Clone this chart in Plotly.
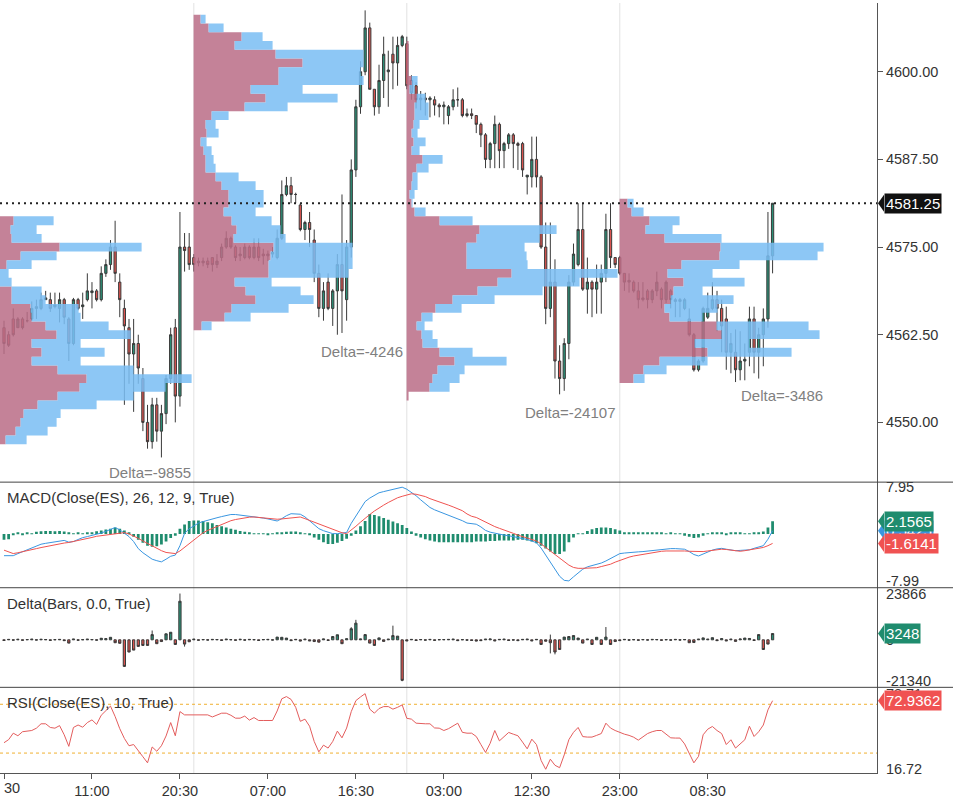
import plotly.graph_objects as go

FONT = "Liberation Sans, Arial, Helvetica, sans-serif"

# ---------------- x axis (30-minute bar index) ----------------
tick_idx = [0, 19, 38, 57, 76, 95, 114, 133, 152]
tick_text = ["30", "11:00", "20:30", "07:00", "16:30", "03:00", "12:30", "23:00", "08:30"]
session_first_bar = [41, 87, 133]
session_delta_text = ["Delta=-9855", "Delta=-4246", "Delta=-24107", "Delta=-3486"]

# ---------------- price bars (ES, 30 min) ----------------
opens = [
    4563.5, 4562.5, 4564.75, 4563.5, 4564.75, 4564.5, 4564.75, 4566.25, 4566.25, 4567.5,
    4567.5, 4566.5, 4566.25, 4567.5, 4564.75, 4561.25, 4567.5, 4566.5, 4567.5, 4568.5,
    4568.75, 4567.5, 4571.25, 4572.5, 4575, 4570, 4566.25, 4563.5, 4559.75, 4561.25,
    4556.25, 4550, 4547.25, 4552.5, 4548.75, 4551.25, 4556.25, 4563.5, 4553.75, 4575, 4575,
    4573.5, 4573, 4572.75, 4573, 4573.5, 4572.5, 4573.5, 4575, 4576.25, 4575,
    4573.75, 4573.5, 4575, 4573.5, 4575, 4574, 4573.75, 4574, 4573.5, 4576.25,
    4582.5, 4583.75, 4582.5, 4581, 4577.5, 4578.5, 4576, 4571.25, 4566.25, 4570,
    4566.25, 4568.75, 4572.5, 4567.5, 4575, 4586, 4595, 4600, 4606.25, 4597.5,
    4595, 4598.75, 4600, 4602.5, 4601.25, 4603.75,
    4604, 4598.75, 4598, 4596, 4596.25, 4596, 4596, 4595.25, 4595, 4593.75,
    4595, 4596, 4596, 4593.75, 4594, 4593.75, 4592.5, 4591, 4587.5, 4589.75,
    4592.5, 4588.75, 4589.75, 4591, 4589.75, 4589.75, 4585, 4585, 4587.5, 4585,
    4575, 4566.25, 4570, 4558.75, 4556.25, 4561.25, 4570, 4572.5, 4577.5, 4569,
    4570, 4569, 4570, 4571.25, 4577.5, 4573.5,
    4573.5, 4571.25, 4570, 4570, 4568.75, 4567.5, 4568.75, 4567.5, 4568.75, 4569,
    4567.5, 4568.75, 4567.5, 4567.25, 4566.25, 4564.75, 4562.5, 4557.5, 4558.75, 4565,
    4566.25, 4567.5, 4566.25, 4564.75, 4560, 4560, 4557.5, 4558.75, 4560, 4564.75,
    4560, 4562.5, 4564.75, 4573.75,
]
highs = [
    4564.5, 4563, 4566.25, 4565, 4565, 4565.75, 4567.25, 4567.5, 4568.5, 4568.75,
    4568.5, 4568.5, 4568.5, 4567.75, 4565, 4567.75, 4567.75, 4568.5, 4571.25, 4570,
    4569, 4572.25, 4573.25, 4576, 4578.75, 4571.25, 4567.5, 4564.75, 4564.75, 4562.5,
    4557.75, 4552.5, 4553.5, 4553.5, 4552.5, 4556.75, 4563.5, 4564.75, 4580, 4577, 4577,
    4574, 4573.5, 4573.5, 4573.5, 4573.5, 4574, 4575.5, 4577.25, 4576.5, 4575.25,
    4575, 4575.5, 4575.25, 4576.25, 4576.25, 4574.75, 4574.5, 4575, 4577.5, 4584.5,
    4585, 4585, 4582.75, 4581.25, 4578.75, 4580, 4577.5, 4572.5, 4570, 4571.25,
    4569, 4574, 4582.5, 4576, 4587.5, 4596, 4601.5, 4608.75, 4607, 4597.5,
    4601, 4605, 4603, 4605, 4605, 4605.25,
    4605, 4599.5, 4598.5, 4597.25, 4597, 4596.5, 4596.5, 4595.5, 4595.75, 4595.25,
    4597.5, 4597.75, 4596.25, 4594.75, 4594.75, 4593.75, 4592.75, 4591.25, 4590, 4593.75,
    4592.75, 4590, 4591.25, 4591.25, 4590, 4590, 4585.25, 4590.75, 4590.75, 4585.25,
    4578.5, 4578.5, 4573.25, 4561, 4562, 4571, 4575.5, 4581.25, 4581.25, 4573.5,
    4570.25, 4572.5, 4572.5, 4579.75, 4581.25, 4573.5,
    4573.75, 4571.25, 4571.25, 4570.25, 4570, 4570, 4569, 4569, 4571.5, 4569.25,
    4570.25, 4569, 4567.75, 4567.75, 4567.75, 4566.25, 4562.75, 4559, 4566.5, 4568.5,
    4570, 4568.75, 4567.5, 4566.5, 4562.75, 4563.25, 4563, 4561.25, 4566.5, 4566.5,
    4563.5, 4566.25, 4580, 4581.25,
]
lows = [
    4559.75, 4560.75, 4562.25, 4563.5, 4563.25, 4564.25, 4564.5, 4564.75, 4566, 4567.5,
    4565.75, 4566.25, 4564.25, 4564, 4558.75, 4561, 4566, 4564.75, 4567.25, 4566.25,
    4567.25, 4567.25, 4570.75, 4571.75, 4570, 4565, 4552.5, 4555.5, 4551.5, 4555.5,
    4548.75, 4546.25, 4546.25, 4547.25, 4545, 4549.75, 4555.5, 4550, 4552.25, 4571.5, 4571.75,
    4571.5, 4572.25, 4572.25, 4572, 4571.5, 4572, 4573, 4574.75, 4574.75, 4573,
    4573, 4573.25, 4573.25, 4573.25, 4573, 4572.5, 4573, 4573.5, 4573.25, 4576,
    4582.25, 4581.25, 4581.25, 4577.25, 4576, 4575, 4570, 4565, 4564.5, 4566,
    4563.75, 4562.5, 4562.75, 4564.5, 4573.5, 4585, 4594, 4599.5, 4597.5, 4593.75,
    4594, 4596.25, 4595, 4597.5, 4598, 4603.5,
    4597.5, 4596, 4594.75, 4594.5, 4593.75, 4593.5, 4593.75, 4593.5, 4592.5, 4592.5,
    4594.5, 4595, 4593.5, 4593.5, 4593.25, 4591.25, 4589.25, 4586.25, 4586.25, 4586.25,
    4586.25, 4586.25, 4589, 4586.25, 4586, 4585, 4582.5, 4583.5, 4583.5, 4574.75,
    4564, 4565, 4556.25, 4554, 4554.5, 4559, 4569.5, 4572.25, 4568.75, 4565.5,
    4565, 4565.5, 4565.5, 4570, 4572, 4572,
    4571, 4568.75, 4568.5, 4568.5, 4566.25, 4567.25, 4566.25, 4567, 4568, 4566.25,
    4567, 4566.25, 4565, 4565, 4566, 4562.25, 4557.25, 4557.25, 4558.5, 4564.75,
    4566, 4563, 4560, 4557.5, 4557, 4555.75, 4556, 4556, 4558, 4557,
    4556.25, 4558, 4563.5, 4571.25,
]
closes = [
    4561.25, 4561, 4562.5, 4564.75, 4563.5, 4564.5, 4566.25, 4566.5, 4567.5, 4567.75,
    4566.25, 4566.75, 4567.5, 4565, 4561.25, 4567.5, 4566.25, 4566.75, 4568.75, 4568.75,
    4567.5, 4571.25, 4572.5, 4575, 4571.25, 4567.5, 4563.75, 4559.75, 4561.25, 4557.75,
    4550, 4547.25, 4552.5, 4548.75, 4551.25, 4556.25, 4562.5, 4553.75, 4575, 4574.5, 4572.5,
    4572.5, 4572.75, 4573, 4572.5, 4572.5, 4573, 4575, 4576.25, 4575, 4573.5,
    4574, 4575, 4573.5, 4575, 4573.5, 4573.75, 4574, 4574.25, 4576.25, 4582.5,
    4583.75, 4582.5, 4582.5, 4577.5, 4578.5, 4577.5, 4571.25, 4566.25, 4568.75, 4566.25,
    4568.75, 4572.5, 4568.75, 4575, 4586, 4595, 4600, 4606.25, 4597.5, 4595,
    4598.75, 4602.5, 4600.25, 4601.25, 4603.75, 4605,
    4598, 4597, 4596, 4596.25, 4596, 4596.25, 4595.25, 4595, 4595.25, 4595,
    4596, 4596, 4593.75, 4594, 4593.75, 4592.5, 4591, 4587.5, 4589.75, 4592.5,
    4588.75, 4589.75, 4591, 4589.75, 4589.5, 4586, 4585.25, 4587.5, 4585, 4575,
    4566.25, 4570, 4558.75, 4556.25, 4561.25, 4570, 4574, 4577.5, 4569, 4570,
    4569, 4570, 4571.25, 4577.5, 4573.5, 4572.5,
    4571.25, 4570, 4570.25, 4568.75, 4567.5, 4567.75, 4567.5, 4568.75, 4570, 4567.5,
    4570, 4567.5, 4567.25, 4567.5, 4567.5, 4562.5, 4557.5, 4558.75, 4566.25, 4566.25,
    4567.5, 4566.25, 4563.75, 4560, 4561.25, 4557.5, 4558.75, 4559, 4564.75, 4560,
    4562.5, 4564.75, 4573.75, 4581.25,
]

# ---------------- volume profiles (per session, 1.25-pt rows, top row price) ----------------
ROW = 1.25
prof_top = [4578.75, 4607.5, 4603.75, 4581.25]
prof_sell = [
    [15, 12, 13, 61, 22, 8, 0, 0, 13, 13, 32, 33, 47, 58, 33, 43, 33, 59, 88, 81, 59, 39, 25, 22, 17, 7],
    [7, 15, 48, 41, 82, 109, 85, 85, 57, 72, 51, 18, 12, 13, 7, 10, 12, 12, 22, 28, 35, 35, 30, 38, 43,
     40, 80, 77, 75, 75, 41, 52, 62, 38, 31, 8],
    [2, 2, 2, 2, 5, 3, 10, 8, 8, 7, 5, 7, 5, 16, 10, 6, 5, 3, 5, 8, 33, 73, 70, 60, 60, 60, 105, 91,
     71, 46, 29, 15, 10, 15, 16, 33, 48, 31, 26, 23, 2],
    [8, 12, 30, 26, 45, 101, 100, 62, 48, 64, 54, 51, 45, 50, 97, 102, 75, 88, 40, 24, 14],
]
prof_total = [
    [55, 38, 43, 143, 58, 33, 10, 13, 43, 47, 80, 82, 110, 132, 82, 106, 82, 135, 193, 167, 135, 98, 62, 58, 49, 28],
    [12, 30, 69, 79, 170, 170, 167, 170, 109, 144, 94, 35, 22, 25, 13, 18, 20, 22, 45, 62, 70, 70, 62, 78, 87,
     92, 159, 159, 159, 155, 78, 107, 120, 95, 57, 18],
    [2, 2, 2, 2, 11, 8, 19, 22, 22, 13, 11, 19, 13, 36, 22, 11, 11, 8, 6, 19, 66, 150, 133, 118, 120, 121, 211, 173,
     136, 88, 55, 26, 18, 26, 31, 66, 100, 58, 53, 43, 2],
    [14, 24, 60, 53, 102, 204, 198, 120, 93, 125, 83, 114, 98, 83, 189, 200, 130, 172, 88, 47, 25],
]
PROFILE_UNITS_PER_BAR = 4.63

# ---------------- Delta(Bars) ----------------
delta = [
    -300, 200, -150, 250, -200, 150, 300, -100, 250, 150, -250, 100, 200, -400,
    -1700, 350, -200, 100, 300, 150, -150, 800, 600, 1300, -1500, -1800, -13700, -6300, -5300, -3400,
    -2900, -2900, 2700, -2000, -900, 3100, 3900, -2400, 19900, -2200, -1000,
    300, -200, 150, -100, 200, 150, -250, 300, 100, -200, 250, -150, 200, 100, -300, 150, 200, -100,
    1400, 1300, 900, -400, 200, -600, 300, -500, -900, -1200, 400, -300, 1700, 2600, -2000, 500,
    5700, 8600, 400, 2700, -1700, -2900, 1000, -800, 300, 2200, 1900, -20900,
    -500, 200, -300, 150, -150, 200, -250, 100, 150, 200, 300, -400, 100, -150, -300, -600, -400,
    300, 400, -500, 200, 300, -300, -100, -400, 200, 300, -500, 200,
    -2400, -700, -1500, -6300, -5000, 1400, 1700, 2200, 900, -1700, 300, -2400, 1300, -2400, 1400,
    -2400, -900,
    -400, 200, -150, 100, -200, 150, -100, 200, 150, -200, 100, -150, 200, -100, 150, -1500, -1400,
    300, 1000, 300, 1100, -400, 600, -500, 300, -800, 400, 900, 700, -300, 2700, -5000, -2200, 3248,
]
delta_wick_high = {32: 4800, 38: 23866, 75: 6500, 76: 10300, 84: 7300, 118: 2700, 130: 6600}
delta_wick_low = {26: -14000, 39: -3500, 86: -21340, 118: -7000, 119: -7500}

# ---------------- MACD(Close, 26, 12, 9) ----------------
macd = [
    -3.70, -3.70, -3.70, -3.35, -3.05, -2.70, -2.40, -2.05, -1.75, -1.60,
    -1.45, -1.30, -1.15, -1.10, -1.40, -1.30, -0.95, -0.63, -0.45, -0.28,
    -0.10, 0.15, 0.45, 0.75, 1.07, 0.70, 0.20, -0.45, -1.30, -2.50,
    -3.20, -3.80, -4.30, -4.55, -4.75, -4.30, -3.80, -3.60, -2.00, 0.10,
    0.90, 1.35, 1.85, 2.10, 2.35, 2.55, 2.75, 2.95, 3.10, 3.30,
    3.30, 3.20, 3.10, 3.05, 3.00, 2.85, 2.70, 2.55, 2.35, 2.20,
    2.60, 3.10, 3.44, 3.40, 3.35, 2.90, 2.20, 1.60, 0.90, 0.55,
    0.25, 0.05, 0.05, 0.10, 0.25, 1.80, 3.10, 4.40, 5.50, 6.10,
    6.60, 7.00, 7.20, 7.40, 7.60, 7.80, 7.95, 7.60, 7.10, 6.50,
    5.80, 5.20, 4.50, 4.10, 3.80, 3.50, 3.20, 2.90, 2.60, 2.25,
    1.85, 1.70, 1.65, 1.20, 0.60, 0.30, 0.10, -0.10, -0.20, -0.30,
    -0.45, -0.60, -0.75, -0.95, -1.20, -1.50, -2.40, -3.60, -5.00, -6.20,
    -7.20, -7.90, -7.99, -7.30, -6.70, -6.00, -5.60, -5.40, -5.25, -4.95,
    -4.60, -4.20, -3.70, -3.35, -3.25, -3.15, -3.10, -3.05, -3.00, -2.90,
    -2.80, -2.70, -2.60, -2.50, -2.50, -2.50, -2.55, -2.60, -3.00, -3.50,
    -3.75, -3.40, -3.00, -2.75, -2.55, -2.45, -2.60, -2.75, -2.85, -2.80,
    -2.75, -2.70, -2.45, -2.20, -2.00, -0.90, 0.5425,
]
signal = [
    -2.76, -3.05, -3.34, -3.20, -3.05, -2.90, -2.70, -2.50, -2.32, -2.15,
    -2.00, -1.85, -1.70, -1.55, -1.45, -1.30, -1.15, -1.00, -0.80, -0.60,
    -0.40, -0.30, -0.20, -0.05, 0.05, 0.15, 0.22, 0.00, -0.35, -0.75,
    -1.20, -1.60, -2.10, -2.50, -2.85, -3.15, -3.30, -3.34, -2.90, -2.30,
    -1.70, -1.00, -0.40, 0.20, 0.60, 0.95, 1.30, 1.65, 1.95, 2.25,
    2.45, 2.60, 2.75, 2.85, 2.88, 2.80, 2.70, 2.60, 2.55, 2.50,
    2.55, 2.65, 2.75, 2.85, 2.88, 2.60, 2.30, 2.00, 1.65, 1.35,
    1.05, 0.75, 0.45, 0.20, 0.05, 0.60, 1.30, 2.00, 2.70, 3.30,
    3.90, 4.45, 4.90, 5.35, 5.75, 6.15, 6.40, 6.65, 6.83, 6.75,
    6.55, 6.35, 6.00, 5.75, 5.45, 5.15, 4.90, 4.60, 4.30, 3.95,
    3.40, 3.00, 2.80, 2.40, 2.00, 1.60, 1.25, 0.95, 0.70, 0.40,
    0.10, -0.20, -0.45, -0.70, -1.00, -1.20, -1.70, -2.30, -3.00, -3.60,
    -4.20, -4.80, -5.30, -5.70, -5.85, -5.85, -5.85, -5.80, -5.75, -5.55,
    -5.35, -5.15, -4.80, -4.50, -4.20, -3.95, -3.75, -3.60, -3.45, -3.30,
    -3.15, -3.05, -2.95, -2.90, -2.88, -2.88, -2.88, -2.90, -2.95, -3.00,
    -3.05, -3.00, -2.90, -2.80, -2.70, -2.60, -2.65, -2.75, -2.85, -2.95,
    -2.85, -2.70, -2.55, -2.40, -2.30, -2.00, -1.6141,
]
hist = [
    -1.0, -0.9, -0.2, 0.15, -0.1, 0.2, 0.1, 0.35, 0.45, 0.5,
    0.5, 0.45, 0.5, 0.4, 0.2, 0.1, 0.15, 0.1, 0.2, 0.3,
    0.45, 0.6, 0.75, 0.9, 1.1, 0.9, 0.6, 0.2, -0.5, -1.0,
    -1.5, -2.0, -2.2, -2.1, -1.8, -1.3, -0.7, -0.3, 0.9, 1.6,
    2.2, 2.3, 2.3, 2.2, 2.0, 1.8, 1.5, 1.3, 1.1, 0.9,
    0.7, 0.5, 0.35, 0.2, 0.1, 0.05, 0.1, -0.05, 0.1, 0.15,
    0.2, 0.35, 0.4, 0.4, 0.3, 0.1, -0.1, -0.6, -1.0, -1.4,
    -1.7, -1.7, -1.5, -1.2, -0.8, -0.3, 0.6, 1.3, 2.2, 3.4,
    3.2, 3.0, 2.7, 2.4, 2.1, 1.8, 1.5, 1.0, 0.4, -0.3,
    -0.6, -0.9, -1.1, -1.3, -1.4, -1.4, -1.4, -1.4, -1.4, -1.4,
    -1.4, -1.4, -1.3, -1.3, -1.3, -1.2, -1.2, -1.1, -1.1, -1.1,
    -1.1, -1.0, -1.0, -1.1, -1.3, -1.6, -2.0, -2.5, -3.0, -3.4,
    -3.4, -3.0, -1.4, -0.6, 0.1, 0.1, 0.5, 0.8, 1.0, 1.1,
    1.1, 1.0, 0.8, 0.6, 0.3, 0.25, 0.25, 0.2, 0.2, 0.2,
    0.2, 0.15, 0.15, 0.1, 0.15, 0.1, 0.05, -0.3, -0.5, -0.7,
    -0.6, -0.3, 0.05, 0.2, 0.2, 0.2, -0.05, 0.2, 0.2, 0.2,
    0.05, 0.1, 0.2, 0.3, 0.4, 1.1, 2.1565,
]

# ---------------- RSI(Close, 10) ----------------
rsi = [
    38.5, 41, 46.3, 44.2, 47.5, 47.7, 48.5, 50.4, 54, 54,
    51, 50.4, 52.5, 45, 35.5, 51, 53, 51.2, 55, 57.2,
    53.5, 61, 64.5, 68.5, 60, 50, 42, 36, 37, 31.5,
    27, 22, 35, 31.5, 36, 44, 55, 44.2, 64, 61.3,
    61.3, 61.3, 61.3, 61.3, 61.3, 59.6, 61, 62.7, 62.7, 61,
    58.6, 58.6, 60.3, 57, 59.1, 56.7, 56.7, 56.7, 56.7, 64.5,
    74.5, 76.3, 74, 67.5, 56, 57.8, 52, 39.5, 31, 36.5,
    34.1, 39.5, 48, 42.5, 50.5, 64, 73, 76, 78.71, 66,
    62.7, 66.5, 68.1, 68.1, 66, 67.5, 69.5, 58.5, 57.8, 54.5,
    54, 54, 54, 50.6, 50.4, 48.5, 50, 52.5, 54.5, 47,
    46.3, 46.3, 43.6, 37, 30.5, 38, 48.5, 40, 43.5, 46.9,
    45.5, 44.2, 39, 33.5, 41.4, 37, 24, 16.72, 25, 20,
    18, 28.5, 41, 47, 51, 43.5, 43.1, 43.1, 44.5, 46,
    54.5, 50.5, 48.5, 46.8, 45.5, 44.5, 43, 40.6, 43, 46,
    47.5, 48.5, 48.5, 45.5, 42.5, 42.3, 42.3, 37.5, 29, 22,
    27.3, 45, 49.6, 51.8, 48.5, 46, 37, 40.9, 34.1, 37.5,
    40.9, 52, 43.6, 47.5, 53, 65.4, 72.9362,
]
rsi_levels = [70, 30]

N = len(closes)
for name, arr in [("opens", opens), ("highs", highs), ("lows", lows), ("delta", delta),
                  ("macd", macd), ("signal", signal), ("hist", hist), ("rsi", rsi)]:
    assert len(arr) == N, (name, len(arr), N)
for s, t in zip(prof_sell, prof_total):
    assert len(s) == len(t)

# ---------------- styling / geometry ----------------
W, H = 953, 800
ML, MR, MT, MB = 0, 76, 0, 27
PLOT_W = W - ML - MR
PLOT_H = H - MT - MB
PX_PER_BAR = 4.63
X_MIN = -4 / PX_PER_BAR
X_MAX = X_MIN + PLOT_W / PX_PER_BAR

PANELS = {"y": (0, 481), "y2": (481, 587), "y3": (587, 687), "y4": (687, 773)}
RANGES = {"y": [4541.48, 4609.80], "y2": [-9.15, 8.81], "y3": [-24499, 26861], "y4": [13.67, 83.88]}

UP, DOWN, EDGE = "#2b8f76", "#d9534f", "#3a3a3a"
PINK = "rgba(186,110,135,0.86)"
BLUE = "rgba(122,190,243,0.86)"
HIST_GREEN = "#1f8c6e"
MACD_BLUE = "#3a96e0"
SIG_RED = "#ef5350"
RSI_RED = "#e35d5d"
AX = "#555555"
TXT = "#333333"


def dom(ax):
    top, bot = PANELS[ax]
    return [(PLOT_H - bot) / PLOT_H, (PLOT_H - top) / PLOT_H]


def units_per_px(ax):
    top, bot = PANELS[ax]
    r = RANGES[ax]
    return (r[1] - r[0]) / (bot - top)


bars = list(range(N))
fig = go.Figure()

# price candles
fig.add_trace(go.Candlestick(
    x=bars, open=opens, high=highs, low=lows, close=closes, yaxis="y",
    increasing=dict(line=dict(color=EDGE, width=1), fillcolor=UP),
    decreasing=dict(line=dict(color=EDGE, width=1), fillcolor=DOWN),
    whiskerwidth=0, hoverinfo="skip", showlegend=False))


# volume profiles (filled staircase polygons on top of candles)
def stair_polygon(base, centers, inner, outer):
    xs, ys = [], []
    for c, w in zip(centers, outer):
        xs += [base + w, base + w]
        ys += [c + ROW / 2, c - ROW / 2]
    for c, w in reversed(list(zip(centers, inner))):
        xs += [base + w, base + w]
        ys += [c - ROW / 2, c + ROW / 2]
    xs.append(xs[0]); ys.append(ys[0])
    return xs, ys


bases = [X_MIN - 0.3] + [b - 0.05 for b in session_first_bar]
for base, top, sell, tot in zip(bases, prof_top, prof_sell, prof_total):
    centers = [top - ROW * k for k in range(len(sell))]
    s_bars = [v / PROFILE_UNITS_PER_BAR for v in sell]
    t_bars = [v / PROFILE_UNITS_PER_BAR for v in tot]
    zeros = [0] * len(sell)
    for inner, outer, col in [(zeros, s_bars, PINK), (s_bars, t_bars, BLUE)]:
        xs, ys = stair_polygon(base, centers, inner, outer)
        fig.add_trace(go.Scatter(x=xs, y=ys, mode="lines", line=dict(width=0), fill="toself",
                                 fillcolor=col, yaxis="y", hoverinfo="skip", showlegend=False))

# MACD
fig.add_trace(go.Bar(x=bars, y=hist, width=0.6, marker=dict(color=HIST_GREEN, line=dict(width=0)),
                     yaxis="y2", hoverinfo="skip", showlegend=False))
fig.add_trace(go.Scatter(x=bars, y=macd, mode="lines", line=dict(color=MACD_BLUE, width=1),
                         yaxis="y2", hoverinfo="skip", showlegend=False))
fig.add_trace(go.Scatter(x=bars, y=signal, mode="lines", line=dict(color=SIG_RED, width=1),
                         yaxis="y2", hoverinfo="skip", showlegend=False))

# Delta bars as candles from 0
d_open = [0] * N
d_high = [delta_wick_high.get(i, max(0, d)) for i, d in enumerate(delta)]
d_low = [delta_wick_low.get(i, min(0, d)) for i, d in enumerate(delta)]
fig.add_trace(go.Candlestick(
    x=bars, open=d_open, high=d_high, low=d_low, close=delta, yaxis="y3",
    increasing=dict(line=dict(color=EDGE, width=1), fillcolor=UP),
    decreasing=dict(line=dict(color=EDGE, width=1), fillcolor=DOWN),
    whiskerwidth=0, hoverinfo="skip", showlegend=False))

# RSI
fig.add_trace(go.Scatter(x=bars, y=rsi, mode="lines", line=dict(color=RSI_RED, width=1),
                         yaxis="y4", hoverinfo="skip", showlegend=False))

tickfont = dict(family=FONT, size=14.5, color=TXT)
yax_common = dict(side="right", anchor="x", showgrid=False, zeroline=False, showline=True,
                  linecolor=AX, linewidth=1, ticks="outside", ticklen=5, tickfont=tickfont,
                  fixedrange=True)

layout = dict(
    width=W, height=H, margin=dict(l=ML, r=MR, t=MT, b=MB),
    paper_bgcolor="white", plot_bgcolor="white", showlegend=False,
    hovermode=False, dragmode=False, barmode="overlay",
    font=dict(family=FONT, color=TXT),
    xaxis=dict(range=[X_MIN, X_MAX], domain=[0, 1], anchor="y4", showgrid=False, zeroline=False,
               showline=True, linecolor=AX, linewidth=1, ticks="outside", ticklen=5, tickcolor=AX,
               tickvals=tick_idx, ticktext=[""] + tick_text[1:], tickfont=tickfont,
               rangeslider=dict(visible=False), fixedrange=True),
    yaxis=dict(domain=dom("y"), range=RANGES["y"], tickvals=[4550, 4562.5, 4575, 4587.5, 4600],
               tickformat=".2f", tickcolor=AX, **yax_common),
    yaxis2=dict(domain=dom("y2"), range=RANGES["y2"], tickvals=[max(macd), min(macd)],
                ticktext=[f"{max(macd):.2f}", f"{min(macd):.2f}"], tickcolor="rgba(0,0,0,0)", **yax_common),
    yaxis3=dict(domain=dom("y3"), range=RANGES["y3"], tickvals=[max(d_high), 0, min(d_low)],
                ticktext=[str(max(d_high)), "0", str(min(d_low))], tickcolor="rgba(0,0,0,0)", **yax_common),
    yaxis4=dict(domain=dom("y4"), range=RANGES["y4"], tickvals=[max(rsi), min(rsi)],
                ticktext=[f"{max(rsi):.2f}", f"{min(rsi):.2f}"], tickcolor="rgba(0,0,0,0)", **yax_common),
)

shapes = []
# session separators
for b in session_first_bar:
    shapes.append(dict(type="line", xref="x", yref="paper", x0=b, x1=b, y0=0, y1=1,
                       line=dict(color="#e2e2e2", width=1), layer="below"))
# last price dotted line
shapes.append(dict(type="line", xref="paper", yref="y", x0=0, x1=1, y0=closes[-1], y1=closes[-1],
                   line=dict(color="#222222", width=2, dash="2px,4px"), layer="above"))
# RSI levels
for lv in rsi_levels:
    shapes.append(dict(type="line", xref="paper", yref="y4", x0=0, x1=1, y0=lv, y1=lv,
                       line=dict(color="#f0b030", width=1, dash="dot"), layer="below"))
# panel separators
for ax in ["y2", "y3", "y4"]:
    yy = dom(ax)[1]
    shapes.append(dict(type="line", xref="paper", yref="paper", x0=0, x1=W / PLOT_W, y0=yy, y1=yy,
                       line=dict(color="#444444", width=1), layer="above"))

annotations = []
# last-value tags
tags = [
    ("y", f"{closes[-1]:.2f}", closes[-1], "#111111"),
    ("y2", f"{macd[-1]:.4f}", macd[-1], MACD_BLUE),
    ("y2", f"{hist[-1]:.4f}", hist[-1], HIST_GREEN),
    ("y2", f"{signal[-1]:.4f}", signal[-1], "#f05252"),
    ("y3", f"{delta[-1]}", delta[-1], HIST_GREEN),
    ("y4", f"{rsi[-1]:.4f}", rsi[-1], "#f05252"),
]
x_tip = (PLOT_W + 1) / PLOT_W
x_box = (PLOT_W + 7) / PLOT_W
for ax, txt, v, col in tags:
    hh = 8.5 * units_per_px(ax)
    shapes.append(dict(type="path", xref="paper", yref=ax,
                       path=f"M {x_tip},{v} L {x_box},{v + hh} L {x_box},{v - hh} Z",
                       fillcolor=col, line=dict(width=0), layer="above"))
    annotations.append(dict(xref="paper", yref=ax, x=x_box - 0.0005, y=v, xanchor="left", yanchor="middle",
                            text=txt, showarrow=False, bgcolor=col, borderpad=1,
                            font=dict(family=FONT, size=15, color="white")))

# session delta labels
delta_label_pos = [(40.8, 4542.8), (86.6, 4560.1), (132.4, 4551.4), (177.3, 4553.8)]
for (xx, yy), txt in zip(delta_label_pos, session_delta_text):
    annotations.append(dict(xref="x", yref="y", x=xx, y=yy, xanchor="right", yanchor="middle",
                            text=txt, showarrow=False, font=dict(family=FONT, size=15, color="#808080")))

# panel titles
titles = [("MACD(Close(ES), 26, 12, 9, True)", 496), ("Delta(Bars, 0.0, True)", 603),
          ("RSI(Close(ES), 10, True)", 702)]
for txt, ypx in titles:
    annotations.append(dict(xref="paper", yref="paper", x=5 / PLOT_W, y=(PLOT_H - ypx) / PLOT_H,
                            xanchor="left", yanchor="middle", text=txt, showarrow=False,
                            font=dict(family=FONT, size=15, color=TXT)))

# first (clipped) time label
annotations.append(dict(xref="x", yref="paper", x=tick_idx[0], y=(PLOT_H - 788) / PLOT_H,
                        xanchor="left", yanchor="middle", text=tick_text[0], showarrow=False,
                        xshift=-2, font=tickfont))

layout["shapes"] = shapes
layout["annotations"] = annotations
fig.update_layout(**layout)
fig.write_html("out.html")
